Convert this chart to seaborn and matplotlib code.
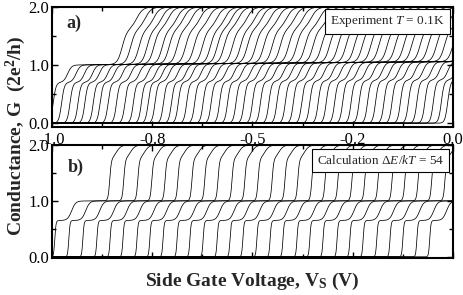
"""Conductance staircases vs side gate voltage: experiment (a) and calculation (b)."""
import matplotlib
matplotlib.use("Agg")
import matplotlib.pyplot as plt
import numpy as np
import pandas as pd
import seaborn as sns
from matplotlib.ticker import FormatStrFormatter, MultipleLocator

# onset voltage (first 0 -> 0.7 rise) of every trace
exp_onsets = [-0.997, -0.976, -0.955, -0.935, -0.918, -0.897, -0.880, -0.860,
              -0.839, -0.818, -0.797, -0.777, -0.760, -0.743, -0.722, -0.702,
              -0.685, -0.664, -0.644, -0.623, -0.603, -0.582, -0.562, -0.541,
              -0.521, -0.500, -0.480, -0.459, -0.439, -0.418, -0.398, -0.377,
              -0.357, -0.336, -0.316, -0.295, -0.275, -0.254, -0.234, -0.213,
              -0.193, -0.172, -0.152, -0.131, -0.111, -0.090, -0.070, -0.049,
              -0.029, -0.013]
calc_onsets = [-0.993, -0.958, -0.923, -0.888, -0.855, -0.823, -0.788, -0.756,
               -0.723, -0.688, -0.656, -0.623, -0.588, -0.556, -0.524, -0.489,
               -0.456, -0.424, -0.389, -0.357, -0.324, -0.289, -0.257, -0.224,
               -0.190, -0.157, -0.125, -0.090, -0.058]

x_ticks = [-1.0, -0.75, -0.5, -0.25, 0.0]
y_ticks = [0.0, 1.0, 2.0]

# step shapes (plateau height, offsets and widths in V)
EXP = dict(h=0.70, w0=0.0035, d1=0.036, w1=0.005, D=0.172, h2=0.60,
           w2=0.006, d2=0.036, w3=0.008, tilt=0.06)
CALC = dict(h=0.65, w0=0.0015, d1=0.042, w1=0.005, D=0.137, h2=0.73,
            w2=0.002, d2=0.016, w3=0.006, tilt=0.0)


def _s(x, w):
    return 0.5 * (1.0 + np.tanh(x / (2.0 * w)))


def staircase(v, x0, p):
    low_level = 1.0 + p["tilt"] * (v + 1.0)
    low = low_level * (p["h"] * _s(v - x0, p["w0"])
                       + (1 - p["h"]) * _s(v - x0 - p["d1"], p["w1"]))
    up = (p["h2"] * _s(v - x0 - p["D"], p["w2"])
          + (1 - p["h2"]) * _s(v - x0 - p["D"] - p["d2"], p["w3"]))
    return low + (2.0 - low) * up


def traces(onsets, p):
    v = np.linspace(-1.0, 0.0, 2500)
    frames = [pd.DataFrame({"V": v, "G": staircase(v, x0, p), "trace": i})
              for i, x0 in enumerate(onsets)]
    return pd.concat(frames, ignore_index=True)


sns.set_theme(style="ticks")
plt.rcParams["font.family"] = ["Liberation Serif", "DejaVu Serif"]
plt.rcParams["mathtext.fontset"] = "custom"
plt.rcParams["mathtext.rm"] = "Liberation Serif"
plt.rcParams["mathtext.it"] = "Liberation Serif:italic"
plt.rcParams["mathtext.bf"] = "Liberation Serif:bold"

fig = plt.figure(figsize=(4.63, 2.95), dpi=100)
ax_a = fig.add_axes([0.1123, 0.5695, 0.8661, 0.4068])
ax_b = fig.add_axes([0.1123, 0.1254, 0.8661, 0.3831])

for ax, onsets, p, ylim in ((ax_a, exp_onsets, EXP, (-0.065, 2.0)),
                            (ax_b, calc_onsets, CALC, (-0.02, 2.0))):
    sns.lineplot(data=traces(onsets, p), x="V", y="G", units="trace",
                 estimator=None, color="black", lw=0.55, ax=ax, legend=False)
    ax.set_xlim(-1.0, 0.0)
    ax.set_ylim(*ylim)
    ax.set_xticks(x_ticks)
    ax.set_yticks(y_ticks)
    ax.xaxis.set_minor_locator(MultipleLocator(0.125))
    ax.yaxis.set_minor_locator(MultipleLocator(0.5))
    ax.yaxis.set_major_formatter(FormatStrFormatter("%.1f"))
    ax.xaxis.set_major_formatter(FormatStrFormatter("%.1f"))
    ax.tick_params(which="both", direction="in", top=True, right=True,
                   labelsize=12, width=1.0, colors="black", pad=2)
    ax.tick_params(axis="x", pad=3.5)
    ax.tick_params(which="major", length=4)
    ax.tick_params(which="minor", length=3)
    for sp in ax.spines.values():
        sp.set_visible(True)
        sp.set_linewidth(1.5)
        sp.set_color("black")
    ax.set_xlabel("")
    ax.set_ylabel("")

ax_b.tick_params(labelbottom=False)

ax_a.text(0.055, 0.86, "a)", transform=ax_a.transAxes, fontsize=13,
          fontweight="bold", ha="center", va="center")
ax_b.text(0.06, 0.80, "b)", transform=ax_b.transAxes, fontsize=13,
          fontweight="bold", ha="center", va="center")

box = dict(boxstyle="square,pad=0.4", fc="white", ec="black", lw=0.8)
ax_a.text(0.98, 0.94, "Experiment $T$ = 0.1K", transform=ax_a.transAxes,
          fontsize=9.5, ha="right", va="top", bbox=box)
ax_b.text(0.978, 0.92, r"Calculation $\Delta E/kT$ = $54$",
          transform=ax_b.transAxes, fontsize=9.5, ha="right", va="top",
          bbox=box)

fig.text(0.035, 0.54, r"Conductance, G  (2e$^{\mathbf{2}}$/h)", rotation=90,
         fontsize=14, fontweight="bold", ha="center", va="center")
fig.text(0.546, 0.047, r"Side Gate Voltage, V$_{\mathbf{S}}$ (V)",
         fontsize=14, fontweight="bold", ha="center", va="center")

fig.savefig("out.png", dpi=100)
